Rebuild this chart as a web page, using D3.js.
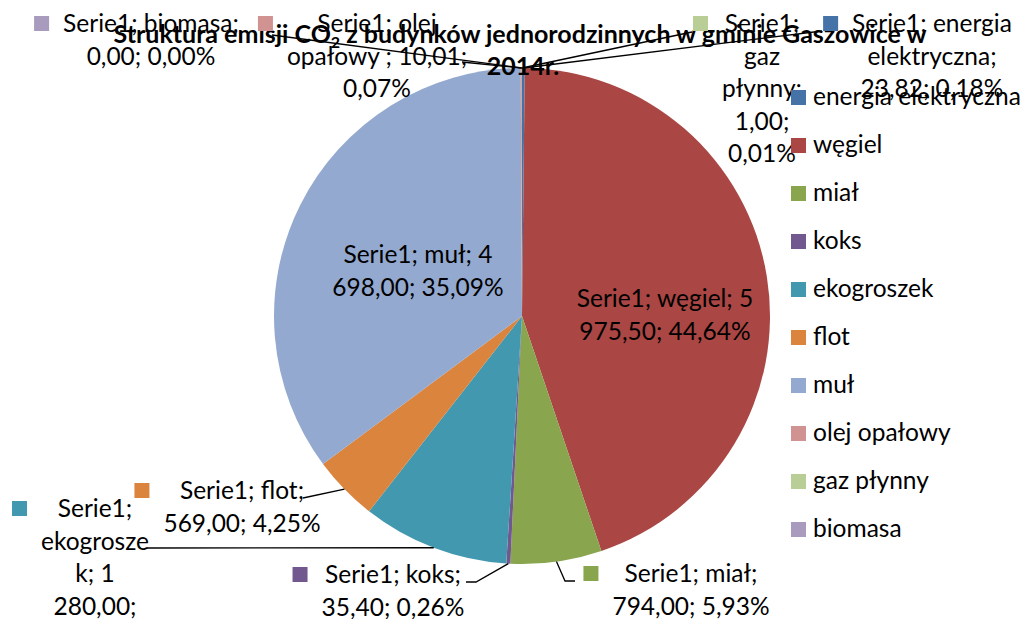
<!DOCTYPE html>
<html>
<head>
<meta charset="utf-8">
<script src="https://cdn.jsdelivr.net/npm/d3@7"></script>
<style>
  body { margin: 0; background: #fff; }
  text { font-family: Lato, "Open Sans", sans-serif; fill: #000; }
</style>
</head>
<body>
<div id="chart"></div>
<script>

var series_name = "Serie1";

var categories = ["energia elektryczna", "węgiel", "miał", "koks", "ekogroszek",
                  "flot", "muł", "olej opałowy ", "gaz płynny", "biomasa"];

var values = [23.82, 5975.50, 794.00, 35.40, 1280.00, 569.00, 4698.00, 10.01, 1.00, 0.00];

var colours = ["#4572A7", "#AA4643", "#89A54E", "#71588F", "#4198AF",
               "#DB843D", "#93A9CF", "#D19392", "#B9CD96", "#A99BBD"];

var title_line1 = ["Struktura emisji CO", "2", " z budynków jednorodzinnych w gminie Gaszowice w"];
var title_line2 = "2014r.";

var width = 1024;
var height = 619;

var centre = {x: 522, y: 316};
var radius = 248;
var font_size = 24.5;
var line_height = 32.5;

// where each data label sits: centre x, first baseline, wrap width, key, leader start points
var label_layout = [
    {cx: 932, y: 32,  wrap: 170, key: true,  leader: [[822, 31]]},
    {cx: 665, y: 307, wrap: 190, key: false, leader: null},
    {cx: 691, y: 582, wrap: 175, key: true,  leader: [[575, 581], [565, 581]]},
    {cx: 393, y: 583, wrap: 175, key: true,  leader: [[466, 582], [476, 582]]},
    {cx: 95,  y: 517, wrap: 110, key: true,  leader: [[147, 548]]},
    {cx: 242, y: 499, wrap: 180, key: true,  leader: [[303, 498]]},
    {cx: 418, y: 263, wrap: 185, key: false, leader: null},
    {cx: 377, y: 32,  wrap: 190, key: true,  leader: [[462, 62]]},
    {cx: 762, y: 32,  wrap: 90,  key: true,  leader: [[692, 32]]},
    {cx: 151, y: 32,  wrap: 200, key: true,  leader: [[272, 35]]}
];

var legend = {x: 791, y: 105, step: 48, box: 15};

var pl = d3.formatLocale({decimal: ",", thousands: " ", grouping: [3], currency: ["", ""]});
var fmt_value = pl.format(",.2f");
var fmt_pct = pl.format(".2%");

var total = d3.sum(values);

var svg = d3.select("#chart")
    .append("svg")
    .attr("width", width)
    .attr("height", height);

svg.append("rect")
    .attr("width", width)
    .attr("height", height)
    .attr("fill", "#fff");

var pie = d3.pie().sort(null).value(function(d){ return d; });
var arcs = pie(values);

var arc = d3.arc().innerRadius(0).outerRadius(radius);

var g = svg.append("g")
    .attr("transform", "translate(" + centre.x + "," + centre.y + ")");

g.selectAll("path.slice")
    .data(arcs)
    .enter()
    .append("path")
    .attr("class", "slice")
    .attr("d", arc)
    .attr("fill", function(d, i){ return colours[i]; });

// title
var title = svg.append("g").attr("class", "title")
    .attr("font-weight", "bold")
    .attr("font-size", "25px");

var t1 = title.append("text")
    .attr("x", 520)
    .attr("y", 43)
    .attr("text-anchor", "middle");
t1.append("tspan").text(title_line1[0]);
t1.append("tspan").attr("font-size", "16px").attr("dy", 5).text(title_line1[1]);
t1.append("tspan").attr("dy", -5).text(title_line1[2]);

title.append("text")
    .attr("x", 523)
    .attr("y", 75)
    .attr("text-anchor", "middle")
    .text(title_line2);

// measuring helper for wrapping
var measurer = svg.append("text")
    .attr("font-size", font_size + "px")
    .attr("visibility", "hidden");

function textWidth(s) {
    measurer.text(s);
    return measurer.node().getComputedTextLength();
}

function wrap(str, max) {
    var words = str.split(" ");
    var lines = [];
    var line = "";
    words.forEach(function(w){
        var test = line ? line + " " + w : w;
        if (textWidth(test) <= max) {
            line = test;
            return;
        }
        if (line) lines.push(line);
        line = w;
        while (textWidth(line) > max) {
            var k = line.length - 1;
            while (k > 1 && textWidth(line.slice(0, k)) > max) k--;
            lines.push(line.slice(0, k));
            line = line.slice(k);
        }
    });
    if (line) lines.push(line);
    return lines;
}

// leader lines
var leaders = svg.append("g").attr("class", "leaders");

arcs.forEach(function(d, i){
    var lay = label_layout[i];
    if (!lay.leader) return;
    var mid = (d.startAngle + d.endAngle) / 2;
    var edge = [centre.x + radius * Math.sin(mid), centre.y - radius * Math.cos(mid)];
    var pts = lay.leader.concat([edge]);
    leaders.append("path")
        .attr("d", d3.line()(pts))
        .attr("fill", "none")
        .attr("stroke", "#000")
        .attr("stroke-width", 1.3);
});

// data labels
var labels = svg.append("g").attr("class", "labels")
    .attr("font-size", font_size + "px");

values.forEach(function(v, i){
    var lay = label_layout[i];
    var str = series_name + "; " + categories[i] + "; " + fmt_value(v) + "; " + fmt_pct(v / total);
    var lines = wrap(str, lay.wrap);
    var widest = d3.max(lines, textWidth);

    if (lay.key) {
        labels.append("rect")
            .attr("x", lay.cx - widest / 2 - 14 - legend.box)
            .attr("y", lay.y - 16)
            .attr("width", legend.box)
            .attr("height", legend.box)
            .attr("fill", colours[i]);
    }

    var t = labels.append("text")
        .attr("text-anchor", "middle");
    lines.forEach(function(l, j){
        t.append("tspan")
            .attr("x", lay.cx)
            .attr("y", lay.y + j * line_height)
            .text(l);
    });
});

measurer.remove();

// legend
var leg = svg.append("g").attr("class", "legend")
    .attr("font-size", font_size + "px");

var items = leg.selectAll("g.item")
    .data(categories)
    .enter()
    .append("g")
    .attr("class", "item")
    .attr("transform", function(d, i){ return "translate(" + legend.x + "," + (legend.y + i * legend.step) + ")"; });

items.append("rect")
    .attr("x", 0)
    .attr("y", -15)
    .attr("width", legend.box)
    .attr("height", legend.box)
    .attr("fill", function(d, i){ return colours[i]; });

items.append("text")
    .attr("x", 22)
    .attr("y", 0)
    .text(function(d){ return d.trim(); });

</script>
</body>
</html>
